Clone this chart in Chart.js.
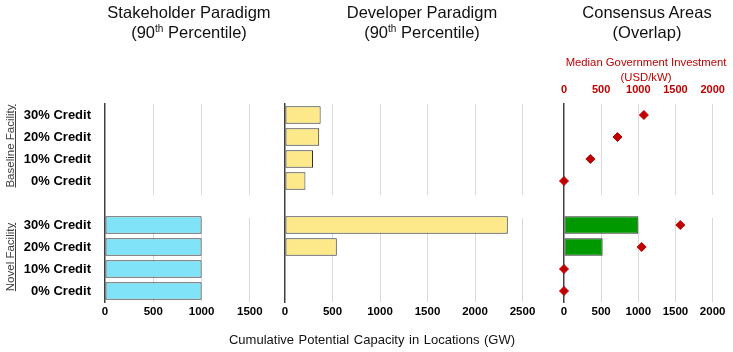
<!DOCTYPE html>
<html>
<head>
<meta charset="utf-8">
<script src="https://cdn.jsdelivr.net/npm/chart.js@4.4.1/dist/chart.umd.min.js"></script>
<style>
    body { margin: 0; background: #fff; }
    #wrap { position: relative; width: 733px; height: 352px; font-family: "Liberation Sans", Arial, sans-serif; }
    #wrap canvas { position: absolute; left: 0; top: 0; }
    .panelTitle { position: absolute; top: 2px; width: 240px; margin-left: -120px; text-align: center; font-size: 16.5px; line-height: 20px; color: #111; }
    .panelTitle sup { font-size: 10px; line-height: 0; vertical-align: 6px; }
    .groupLabel { position: absolute; left: 10px; font-size: 11.5px; color: #404040; text-decoration: underline; white-space: nowrap; transform: translate(-50%, -50%) rotate(-90deg); }
    #investTitle { position: absolute; left: 646px; top: 55px; width: 200px; margin-left: -100px; text-align: center; font-size: 11.3px; line-height: 15px; color: #c00000; }
    #xTitle { position: absolute; left: 372px; top: 332px; width: 400px; margin-left: -200px; text-align: center; font-size: 13px; word-spacing: 1px; color: #111; }
</style>
</head>
<body>
<div id="wrap">
    <canvas id="StakeholderChart" width="733" height="352"></canvas>
    <canvas id="DeveloperChart" width="733" height="352"></canvas>
    <canvas id="ConsensusChart" width="733" height="352"></canvas>

    <div class="panelTitle" style="left:189px">Stakeholder Paradigm<br>(90<sup>th</sup> Percentile)</div>
    <div class="panelTitle" style="left:422px">Developer Paradigm<br>(90<sup>th</sup> Percentile)</div>
    <div class="panelTitle" style="left:647px">Consensus Areas<br>(Overlap)</div>
    <div id="investTitle">Median Government Investment<br>(USD/kW)</div>
    <div class="groupLabel" style="top:146px">Baseline Facility</div>
    <div class="groupLabel" style="top:257px">Novel Facility</div>
    <div id="xTitle">Cumulative Potential Capacity in Locations (GW)</div>
</div>
<script>
// rows: baseline facility, empty spacer row, novel facility
const rowLabels = ['30% Credit', '20% Credit', '10% Credit', '0% Credit', '', '30% Credit', '20% Credit', '10% Credit', '0% Credit'];
const stakeholderGW = [0, 0, 0, 0, null, 1000, 1000, 1000, 1000];
const developerGW = [375, 360, 295, 215, null, 2345, 545, 0, 0];
const consensusGW = [0, 0, 0, 0, null, 1000, 520, 0, 0];
const investmentUSDkW = [1075, 720, 355, 0, null, 1565, 1045, 0, 0];

const stakeholderTicks = [0, 500, 1000, 1500];
const developerTicks = [0, 500, 1000, 1500, 2000, 2500];
const consensusTicks = [0, 500, 1000, 1500, 2000];
const investmentTicks = [0, 500, 1000, 1500, 2000];

Chart.defaults.font.family = '"Liberation Sans", Arial, sans-serif';
Chart.defaults.color = '#000';

// white out the grid lines across the spacer row
const rowGapPlugin = {
    id: 'rowGap',
    beforeDatasetsDraw: function (chart) {
        let area = chart.chartArea;
        let mid = chart.scales.y.getPixelForValue(4);
        let ctx = chart.ctx;
        ctx.save();
        ctx.fillStyle = '#fff';
        ctx.fillRect(area.left + 1, mid - 8, area.right - area.left, 23);
        ctx.restore();
    }
};

function valueAxis(max, tickValues) {
    return {
        type: 'linear',
        min: 0,
        max: max,
        afterFit: function (scale) { scale.height = 50; },
        afterBuildTicks: function (scale) {
            scale.ticks = tickValues.map(v => ({ value: v }));
        },
        border: { display: false },
        grid: {
            drawTicks: false,
            color: function (c) { return c.tick.value === 0 ? 'rgba(0,0,0,0)' : '#d9d9d9'; }
        },
        ticks: {
            padding: 3,
            autoSkip: false,
            maxRotation: 0,
            font: { size: 11.5, weight: 'bold' },
            callback: function (v) { return v; }
        }
    };
}

function rowAxis(width, showLabels) {
    return {
        type: 'category',
        afterFit: function (scale) { scale.width = width; },
        border: { color: '#404040', width: 1.5 },
        grid: { display: false, drawTicks: false },
        ticks: {
            display: showLabels,
            padding: 14,
            font: { size: 13, weight: 'bold' }
        }
    };
}

function barSet(data, color) {
    return {
        type: 'bar',
        data: data,
        xAxisID: 'x',
        backgroundColor: color,
        borderColor: '#2e2e2e',
        borderWidth: 1,
        borderSkipped: false,
        categoryPercentage: 1,
        barPercentage: 0.8,
        order: 1
    };
}

function baseOptions(padding, scales) {
    return {
        indexAxis: 'y',
        responsive: false,
        animation: false,
        layout: { padding: padding },
        plugins: { legend: { display: false }, tooltip: { enabled: false } },
        scales: scales
    };
}

new Chart(document.getElementById('StakeholderChart'), {
    type: 'bar',
    data: { labels: rowLabels, datasets: [barSet(stakeholderGW, '#80e3f7')] },
    options: baseOptions({ left: 0, right: 459, top: 104, bottom: 0 }, {
        x: valueAxis(1750, stakeholderTicks),
        y: rowAxis(105, true)
    }),
    plugins: [rowGapPlugin]
});

new Chart(document.getElementById('DeveloperChart'), {
    type: 'bar',
    data: { labels: rowLabels, datasets: [barSet(developerGW, '#fde98a')] },
    options: baseOptions({ left: 285, right: 191.5, top: 104, bottom: 0 }, {
        x: valueAxis(2700, developerTicks),
        y: rowAxis(0, false)
    }),
    plugins: [rowGapPlugin]
});

let investAxis = {
    type: 'linear',
    position: 'top',
    min: 0,
    max: 2200,
    afterFit: function (scale) { scale.height = 22; },
    afterBuildTicks: function (scale) {
        scale.ticks = investmentTicks.map(v => ({ value: v }));
    },
    border: { display: false },
    grid: { display: false, drawTicks: false },
    ticks: {
        padding: 7,
        autoSkip: false,
        maxRotation: 0,
        color: '#c00000',
        font: { size: 11, weight: 'bold' },
        callback: function (v) { return v; }
    }
};

new Chart(document.getElementById('ConsensusChart'), {
    type: 'bar',
    data: {
        labels: rowLabels,
        datasets: [
            {
                type: 'line',
                indexAxis: 'y',
                data: investmentUSDkW,
                xAxisID: 'x2',
                yAxisID: 'y',
                showLine: false,
                pointStyle: 'rectRot',
                pointRadius: 4.5,
                pointBackgroundColor: '#c00000',
                pointBorderColor: '#c00000',
                clip: false,
                order: 0
            },
            barSet(consensusGW, '#009a00')
        ]
    },
    options: baseOptions({ left: 564, right: 3, top: 82, bottom: 0 }, {
        x: valueAxis(2200, consensusTicks),
        x2: investAxis,
        y: rowAxis(0, false)
    }),
    plugins: [rowGapPlugin]
});
</script>
</body>
</html>
